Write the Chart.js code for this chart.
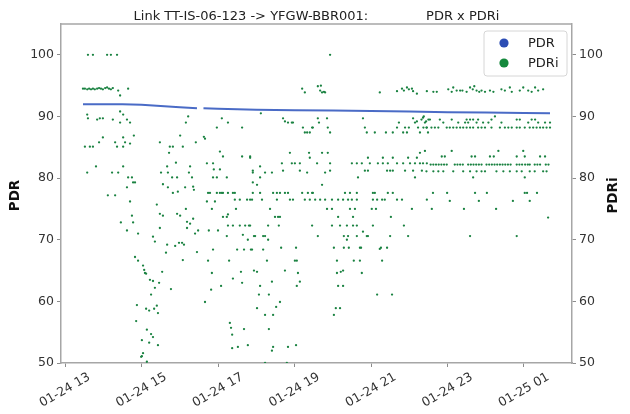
<!DOCTYPE html>
<html>
<head>
<meta charset="utf-8">
<script src="https://cdn.jsdelivr.net/npm/chart.js@4.4.1/dist/chart.umd.min.js"></script>
<style>
html,body{margin:0;padding:0;background:#fff;}
#wrap{width:630px;height:414px;}
</style>
</head>
<body>
<div id="wrap"><canvas id="c" width="630" height="414"></canvas></div>
<script>
// ---- data ----
const chartTitle = 'Link TT-IS-06-123 -> YFGW-BBR001:              PDR x PDRi';
const leftAxisTitle = 'PDR';
const rightAxisTitle = 'PDRi';
const xTickHours = [13, 15, 17, 19, 21, 23, 25];
const xTickLabels = ['01-24 13', '01-24 15', '01-24 17', '01-24 19', '01-24 21', '01-24 23', '01-25 01'];
const yTicks = [50, 60, 70, 80, 90, 100];

// PDR (hours since 01-24 00:00)
const pdrHours  = [13.47, 14.0, 14.5, 15.0, 15.5, 16.0, 16.45, 16.55, 16.62, 17.0, 17.5, 18.0, 18.5, 19.0, 20.0, 21.0, 22.0, 23.0, 24.0, 25.0, 25.68];
const pdrValues = [92.0, 92.0, 92.0, 91.9, 91.7, 91.5, 91.35, null, 91.33, 91.25, 91.15, 91.1, 91.05, 91.0, 90.95, 90.9, 90.8, 90.7, 90.65, 90.55, 90.5];

// PDRi points [hour, value]
const pdriEarly = [
[13.60,100],[13.73,100],[14.10,100],[14.20,100],[14.36,100],
[13.47,94.5],[13.52,94.5],[13.58,94.4],[13.63,94.5],[13.68,94.4],[13.73,94.5],[13.78,94.4],[13.84,94.5],[13.89,94.6],[13.94,94.5],[13.99,94.4],[14.05,94.6],[14.10,94.7],[14.15,94.5],[14.20,94.4],[14.25,94.6],[14.39,94.2],[14.44,93.4],[14.65,94.5],
[13.58,90.3],[13.60,89.7],[13.84,89.5],[13.91,89.7],[13.99,89.7],[14.25,89.5],[14.44,90.8],[14.52,90.3],[14.44,89.0],[14.62,89.5],[14.70,89.0],
[13.99,86.6],[13.89,85.8],[14.52,86.6],[14.57,85.8],[14.80,86.9],[13.52,85.1],[13.65,85.1],[13.73,85.1],[14.31,85.8],[14.36,85.1],[14.52,85.1],[14.70,85.6],
[13.58,80.9],[13.81,81.9],[14.23,80.9],[14.39,80.9],[14.52,81.9],
[14.65,80.1],[14.75,80.1],[14.78,79.3],[14.83,79.3],
[14.62,78.5],[14.12,77.2],[14.31,77.2],
[14.70,76.2],[14.75,73.9],[14.46,72.8],[14.78,72.8],[14.62,71.5],[14.91,71.0],
[14.83,67.2],[14.91,66.6],[15.04,65.8],[15.07,65.1],[15.09,64.6],[15.12,64.5],
[15.22,63.5],[15.30,63.3],[15.54,64.8],[15.46,63.0],[15.35,62.2],[15.77,62.0],[15.25,61.1],
[14.88,59.4],[15.40,59.3],[15.33,58.8],[15.12,58.8],[15.20,58.5],[15.43,58.1],
[14.86,56.8],[15.14,55.4],[15.25,54.7],[15.30,54.2],
[15.01,53.7],[15.20,53.3],[15.43,52.9],
[15.04,51.6],[15.01,51.1],[14.99,51.0],[15.14,50.2]
];

const pdriMid = [
[15.40,75.7],[15.48,74.2],[15.56,73.9],[15.93,74.2],[16.01,73.9],[16.16,75.0],
[16.19,72.9],[16.27,72.6],[16.35,73.4],[16.19,71.9],
[15.30,70.5],[15.35,69.7],[15.48,71.9],[15.67,69.2],[15.64,67.9],
[15.88,69.0],[15.98,69.5],[16.06,69.5],[16.11,69.2],[16.45,68.0],[16.08,66.7],[16.40,71.0],[16.48,71.5],
[16.66,59.9],[16.82,61.9],[17.08,62.5],
[17.31,56.5],[17.34,55.7],[17.37,54.6],[17.68,55.5],[17.78,52.9],[17.52,52.6],[17.37,52.4],
[16.84,64.6],[16.74,66.6],[17.29,66.6],[17.39,63.7],[17.63,63.0],[17.60,64.8],[17.94,65.0],[18.02,64.8],[18.02,58.9],
[16.87,68.4],[17.50,68.4],[17.68,68.4],[17.86,68.4],
[16.76,71.5],[17.23,70.6],[17.00,71.5],
[17.26,72.3],[17.39,72.3],[17.57,72.3],[17.71,72.3],[17.81,72.3],
[17.13,73.7],[17.23,73.7],[17.26,74.1],[17.47,75.0],
[17.44,76.5],[17.57,76.5],[17.76,76.5],[17.89,76.5],
[17.65,70.8],[17.78,70.0],[17.94,70.6],
[16.71,76.2],[16.92,76.2],[16.84,75.0],
[16.74,77.6],[16.79,77.6],[16.97,77.6],[17.05,77.6],[17.10,77.6],[17.13,77.6],[17.26,77.6],[17.39,77.6],[17.44,77.6],[17.91,77.6],
[15.56,79.0],[15.69,78.5],[15.82,77.6],[15.95,77.8],[16.14,78.5],[16.35,78.6],[16.37,78.1],
[15.80,80.1],[15.93,80.1],[16.32,80.1],[16.87,80.1],[16.97,80.1],[17.23,80.1],[18.10,80.1],[17.91,79.3],
[15.67,81.9],[15.90,82.5],[16.27,81.9],[15.51,80.9],[15.69,80.9],[16.24,80.9],[16.71,82.4],[16.87,82.4],[16.89,81.4],[17.05,81.4],[17.91,80.9],[18.10,81.9],
[15.72,84.1],[17.05,84.3],[17.13,83.5],[17.63,83.5],[17.84,83.5],[17.84,83.3],
[15.48,85.8],[16.42,85.8],[15.74,85.1],[15.82,85.1],[16.08,85.1],
[16.01,86.9],[16.63,86.7],[16.66,86.4],
[16.22,90.0],[16.16,89.0],[17.10,89.7],[17.26,89.0],[16.97,88.2],[17.63,88.2]
];

const pdriEvening = [
[19.93,100],
[19.20,94.5],[19.27,93.9],[19.61,94.9],[19.67,94.2],[19.72,93.9],[19.77,94.0],[19.80,93.9],[19.69,95.0],[21.23,93.9],
[21.68,94.1],[21.81,94.5],[21.86,94.2],[21.94,94.7],[21.99,94.4],[22.07,94.5],[22.10,94.1],[22.20,93.7],[22.46,94.1],
[18.12,90.5],
[18.70,89.7],[18.75,89.2],[18.83,89.0],[18.93,89.0],[18.96,89.0],
[19.22,88.2],[19.27,87.4],[19.40,87.4],[19.46,88.2],[19.48,88.2],[19.33,87.4],
[19.61,89.7],[19.64,89.0],[19.85,89.7],[19.87,88.2],[19.93,87.4],
[20.79,89.7],[20.84,88.2],[20.89,87.4],[21.10,87.4],[21.39,87.4],
[21.57,87.4],[21.68,88.2],[21.73,89.0],[21.84,87.4],[21.89,88.2],[21.94,87.4],[21.99,88.2],[22.10,89.7],[22.15,89.0],[22.20,89.2],[22.23,88.2],[22.28,87.4],[22.36,89.8],[22.38,90.0],[22.44,89.2],[22.46,88.2],[22.49,87.4],
[18.88,84.1],[19.38,84.1],[19.72,84.1],[19.87,84.1],
[19.40,83.3],[20.92,83.3],[21.31,83.3],[21.57,83.3],[21.97,83.3],[22.20,83.3],[22.28,84.1],
[18.67,82.4],[18.93,82.4],[19.01,82.4],[19.14,82.4],[19.59,82.4],[19.93,82.4],[20.50,82.4],[20.63,82.4],[20.76,82.4],[20.97,82.4],[21.18,82.4],[21.31,82.4],[21.44,82.4],[21.68,82.4],[21.84,82.4],[22.02,82.4],[22.15,82.4],[22.28,82.4],[22.36,82.4],[22.46,82.4],
[17.91,81.2],[18.23,80.9],[18.41,80.9],[18.70,81.2],[19.14,81.2],[19.33,80.9],[19.80,80.9],[19.93,81.2],[20.84,81.2],[20.92,81.2],[21.42,81.2],[21.50,81.2],[21.57,81.2],[21.89,81.2],[22.10,81.2],[22.33,81.2],
[20.66,80.1],[18.02,78.9],[19.72,78.9],[22.15,80.1],
[18.10,77.6],[18.44,77.6],[18.54,77.6],[18.62,77.6],[18.75,77.6],[18.83,77.6],[19.20,77.6],[19.35,77.6],[19.46,77.6],[19.48,77.6],[20.32,77.6],[20.45,77.6],[20.63,77.6],[21.05,77.6],[21.10,77.6],[21.44,77.6],[21.57,77.6],
[17.84,76.5],[18.15,76.5],[18.54,76.5],[18.88,76.5],[18.96,76.5],[19.27,76.5],[19.40,76.5],[19.54,76.5],[19.67,76.5],[19.80,76.5],[19.98,76.5],[20.14,76.5],[20.27,76.5],[20.40,76.5],[20.50,76.5],[20.63,76.5],[21.05,76.5],[21.16,76.5],[21.29,76.5],[21.36,76.5],[21.68,76.5],[21.81,76.5],[22.46,76.5],
[18.36,75.0],[19.85,75.0],[19.98,75.0],[20.45,75.0],[20.58,75.0],[21.02,75.0],[21.13,75.0],[22.07,75.0],
[18.49,73.7],[18.57,73.7],[18.62,73.7],[20.14,73.7],[20.53,73.7],[21.52,73.7],
[17.84,72.3],[18.31,72.3],[18.59,72.3],[19.46,72.3],[19.98,72.3],[20.19,72.3],[20.37,72.3],[20.53,72.3],[20.63,72.3],[21.05,72.3],[21.86,72.3],
[20.79,71.3],
[17.97,70.6],[18.18,70.6],[18.23,70.6],[19.61,70.6],[20.29,70.6],[20.40,70.6],[20.63,70.6],[20.89,70.6],[20.92,70.6],[21.50,70.6],[21.97,70.6],
[18.31,70.0],[20.37,70.0],
[17.89,68.4],[18.18,68.4],[18.65,68.7],[19.04,68.7],[20.03,68.7],[20.29,68.7],[20.42,68.7],[20.71,68.7],[20.74,68.7],[21.23,68.5],[21.26,68.7],[21.42,68.7],
[18.28,66.6],[19.01,66.6],[19.06,66.6],[20.11,66.6],[20.55,66.6],[20.71,66.6],[21.29,66.6],
[18.75,65.0],[19.09,64.6],[20.11,64.6],[20.21,64.8],[20.27,65.0],[20.76,64.6],
[18.41,63.2],[19.14,63.2],[19.06,62.5],[18.10,62.5],[20.14,62.5],[20.27,62.5],
[18.07,61.1],[18.33,61.1],[21.16,61.1],[21.55,61.1],
[18.62,59.9],[18.52,59.1],[20.08,58.9],[20.19,58.9],
[18.23,57.8],[18.44,57.8],[20.03,57.8],
[18.33,55.5],
[18.44,52.6],[18.83,52.6],[19.04,52.9],[18.41,52.0],
[18.23,50.0],[18.80,50.0]
];

const pdriNight = [
[22.63,94.0],[22.72,94.0],[23.02,94.4],[23.11,94.0],[23.15,94.7],[23.24,94.2],[23.33,94.2],[23.39,94.2],[23.50,94.0],[23.59,94.7],[23.66,94.4],[23.70,94.9],[23.76,94.2],[23.83,94.0],[23.89,94.2],[23.98,94.0],[24.11,94.2],[24.20,94.0],[24.41,94.4],[24.50,94.2],[24.63,94.7],[24.68,94.0],[24.89,94.2],[24.98,94.7],[25.11,94.2],[25.20,94.0],[25.29,94.7],[25.37,94.2],[25.50,94.4],
[22.32,89.5],[22.50,89.5],[22.54,89.5],[22.80,89.5],[23.11,89.5],[23.50,89.5],[23.59,89.5],[23.67,89.5],[23.80,89.5],[24.15,89.5],[24.24,90.0],[24.81,89.5],[24.89,89.5],[25.20,89.5],[25.29,89.5],
[22.41,89.0],[22.89,89.0],[23.28,89.0],[23.46,89.0],[23.54,89.0],[23.76,89.0],[23.93,89.0],[24.07,89.0],[24.41,89.0],[25.11,89.0],[25.37,89.0],[25.55,89.0],[25.68,89.0],
[22.37,88.2],[22.45,88.2],[22.58,88.2],[22.67,88.2],[22.76,88.2],[22.98,88.2],[23.06,88.2],[23.15,88.2],[23.24,88.2],[23.33,88.2],[23.41,88.2],[23.50,88.2],[23.59,88.2],[23.67,88.2],[23.80,88.2],[23.89,88.2],[23.98,88.2],[24.15,88.2],[24.37,88.2],[24.50,88.2],[24.59,88.2],[24.68,88.2],[24.81,88.2],[24.89,88.2],[25.02,88.2],[25.15,88.2],[25.24,88.2],[25.33,88.2],[25.42,88.2],[25.50,88.2],[25.59,88.2],[25.68,88.2],
[22.41,84.4],[22.85,83.5],[22.93,83.5],[23.11,84.4],[23.63,83.5],[23.72,83.5],[24.11,83.5],[24.21,83.5],[24.33,84.4],[24.81,83.5],[24.98,84.4],[25.02,83.5],[25.42,83.5],[25.55,83.5],
[22.56,82.2],[22.63,82.2],[22.70,82.2],[22.77,82.2],[22.84,82.2],[22.91,82.2],[22.98,82.2],[23.19,82.2],[23.26,82.2],[23.33,82.2],[23.40,82.2],[23.54,82.2],[23.61,82.2],[23.68,82.2],[23.75,82.2],[23.82,82.2],[23.89,82.2],[24.02,82.2],[24.09,82.2],[24.16,82.2],[24.23,82.2],[24.30,82.2],[24.37,82.2],[24.44,82.2],[24.51,82.2],[24.58,82.2],[24.65,82.2],[24.81,82.2],[24.88,82.2],[24.95,82.2],[25.03,82.2],[25.10,82.2],[25.15,82.2],[25.28,82.2],[25.35,82.2],[25.42,82.2],[25.57,82.2],[25.64,82.2],
[22.45,81.1],[22.63,81.1],[22.76,81.1],[22.89,81.1],[23.15,81.1],[23.41,81.1],[23.59,81.1],[23.76,81.1],[23.89,81.1],[23.98,81.1],[24.28,81.1],[24.46,81.1],[24.63,81.1],[24.81,81.1],[24.94,81.1],[25.15,81.1],[25.28,81.1],[25.50,81.1],[25.59,81.1],
[23.67,80.1],[25.02,80.1],
[22.62,77.6],[22.99,77.6],[23.72,77.6],[24.03,77.6],[25.02,77.6],[25.08,77.6],[25.34,77.6],
[23.06,76.3],[23.82,76.3],[24.71,76.3],[25.15,76.3],
[22.59,75.0],[23.43,75.0],[24.27,75.0],
[25.63,73.6],[23.59,70.6],[24.81,70.6]
];

// ---- chart ----
const pdriPoints = [].concat(pdriEarly, pdriMid, pdriEvening, pdriNight).map(p => ({x: p[0], y: p[1]}));
const pdrPoints = pdrHours.map((h, i) => ({x: h, y: pdrValues[i]}));

const FONT = 'DejaVu Sans';
const ang = 30 * Math.PI / 180;

const overlay = {
  id: 'overlay',
  afterDraw(chart) {
    const ctx = chart.ctx;
    const a = chart.chartArea;
    ctx.save();
    // top spine
    ctx.strokeStyle = '#a6a6a6';
    ctx.lineWidth = 1.5;
    ctx.beginPath();
    ctx.moveTo(a.left, a.top);
    ctx.lineTo(a.right, a.top);
    ctx.stroke();
    // title
    ctx.fillStyle = '#222';
    ctx.font = '13px "' + FONT + '"';
    ctx.textAlign = 'center';
    ctx.textBaseline = 'alphabetic';
    ctx.fillText(chartTitle, (a.left + a.right) / 2, 20);
    // x tick labels (rotated, centered on tick)
    const xs = chart.scales.x;
    ctx.font = '12.5px "' + FONT + '"';
    ctx.fillStyle = '#333';
    xTickHours.forEach((h, i) => {
      const px = xs.getPixelForValue(h);
      const w = ctx.measureText(xTickLabels[i]).width;
      const th = 12;
      const bh = w * Math.sin(ang) + th * Math.cos(ang);
      const cy = a.bottom + 8 + bh / 2;
      ctx.save();
      ctx.translate(px, cy);
      ctx.rotate(-ang);
      ctx.textAlign = 'center';
      ctx.textBaseline = 'middle';
      ctx.fillText(xTickLabels[i], 0, 0);
      ctx.restore();
    });
    // axis titles
    ctx.font = 'bold 13.5px "' + FONT + '"';
    ctx.fillStyle = '#111';
    const midY = (a.top + a.bottom) / 2 + 2;
    [[15, leftAxisTitle], [613, rightAxisTitle]].forEach(([x, t]) => {
      ctx.save();
      ctx.translate(x, midY);
      ctx.rotate(-Math.PI / 2);
      ctx.textAlign = 'center';
      ctx.textBaseline = 'middle';
      ctx.fillText(t, 0, 0);
      ctx.restore();
    });
    // legend
    const lx = 484, ly = 31, lw = 83, lh = 45;
    ctx.beginPath();
    ctx.roundRect(lx, ly, lw, lh, 3);
    ctx.fillStyle = 'rgba(255,255,255,0.85)';
    ctx.fill();
    ctx.strokeStyle = '#d6d6d6';
    ctx.lineWidth = 1;
    ctx.stroke();
    const markerColors = ['#2c4db4', '#15893d'];
    ctx.font = '13px "' + FONT + '"';
    chart.data.datasets.forEach((ds, i) => {
      const y = 43 + i * 20;
      ctx.beginPath();
      ctx.arc(504, y, 4.6, 0, Math.PI * 2);
      ctx.fillStyle = markerColors[i];
      ctx.fill();
      ctx.fillStyle = '#222';
      ctx.textAlign = 'left';
      ctx.textBaseline = 'middle';
      ctx.fillText(ds.label, 528, y + 1);
    });
    ctx.restore();
  }
};

function yAxis(pos, width) {
  return {
    type: 'linear',
    position: pos,
    min: 50,
    max: 105,
    afterBuildTicks: s => { s.ticks = yTicks.map(v => ({value: v})); },
    afterFit: s => { s.width = width; },
    ticks: { font: {family: FONT, size: 12.5}, color: '#333', padding: 3 },
    grid: { drawOnChartArea: false, drawTicks: true, tickLength: 4, color: '#8c8c8c', lineWidth: 1 },
    border: { display: true, color: '#a6a6a6', width: 1.5 }
  };
}

new Chart(document.getElementById('c'), {
  data: {
    datasets: [
      {
        type: 'line',
        label: 'PDR',
        data: pdrPoints,
        yAxisID: 'y',
        borderColor: '#4a6bc6',
        borderWidth: 2,
        pointRadius: 0,
        spanGaps: false,
        tension: 0,
        order: 1
      },
      {
        type: 'scatter',
        label: 'PDRi',
        data: pdriPoints,
        yAxisID: 'y2',
        pointBackgroundColor: '#1a8241',
        pointBorderWidth: 0,
        pointRadius: 1.15,
        pointHoverRadius: 1.15,
        order: 0
      }
    ]
  },
  options: {
    responsive: false,
    animation: false,
    devicePixelRatio: 1,
    layout: { padding: { top: 24, left: 0, right: 0, bottom: 0 } },
    plugins: { legend: { display: false }, tooltip: { enabled: false }, title: { display: false } },
    scales: {
      x: {
        type: 'linear',
        min: 12.895,
        max: 26.255,
        afterBuildTicks: s => { s.ticks = xTickHours.map(v => ({value: v})); },
        afterFit: s => { s.height = 51; },
        ticks: { display: false },
        grid: { drawOnChartArea: false, drawTicks: true, tickLength: 4, color: '#8c8c8c', lineWidth: 1 },
        border: { display: true, color: '#a6a6a6', width: 1.5 }
      },
      y: yAxis('left', 61),
      y2: yAxis('right', 58)
    }
  },
  plugins: [overlay]
});
</script>
</body>
</html>
